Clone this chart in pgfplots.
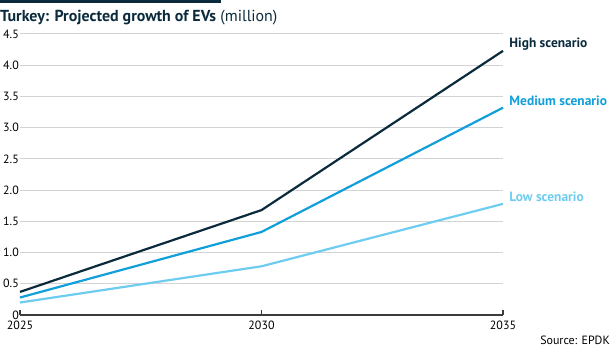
\documentclass[border=0pt]{standalone}
\usepackage{fontspec}
\setmainfont{PT Sans}
\usepackage{pgfplots}
\pgfplotsset{compat=1.18}
\definecolor{high}{HTML}{0B2B3D}
\definecolor{med}{HTML}{109FDA}
\definecolor{low}{HTML}{6ECCF0}
\definecolor{gridc}{HTML}{D3D3D3}
\definecolor{axisc}{HTML}{3C3C3C}
\begin{document}
\begin{tikzpicture}[x=1bp,y=1bp]
\path[use as bounding box] (0,0) rectangle (615,350);
\fill[high] (0,347) rectangle (221,350);
\node[anchor=base west, inner sep=0, text=high] at (0,329) {\fontsize{16}{18}\selectfont\textbf{Turkey: Projected growth of EVs} (million)};
\node[anchor=base east, inner sep=0, text=black] at (610,6) {\fontsize{12}{14}\selectfont Source: EPDK};
\begin{axis}[
  at={(20bp,35bp)}, anchor=south west,
  scale only axis, width=483bp, height=281bp,
  xmin=2025, xmax=2035, ymin=0, ymax=4.5,
  axis x line*=bottom, axis y line*=left,
  y axis line style={draw=none},
  x axis line style={axisc, line width=2bp, -},
  xtick={2025,2030,2035},
  xticklabels={2025,2030,2035},
  ytick={0,0.5,1,1.5,2,2.5,3,3.5,4,4.5},
  yticklabels={0,0.5,1.0,1.5,2.0,2.5,3.0,3.5,4.0,4.5},
  ymajorgrids, grid style={gridc, line width=1bp},
  ytick style={draw=none},
  xtick style={axisc, line width=1.2bp},
  major tick length=5bp, tick align=inside,
  tick label style={font=\fontsize{12}{14}\selectfont, text=black},
  yticklabel style={inner sep=1bp, xshift=0bp},
  xticklabel style={inner sep=1bp, yshift=-5bp},
  clip=false,
]
\addplot[low, line width=2.2bp] coordinates {(2025,0.20) (2030,0.78) (2035,1.78)}
  node[pos=1, anchor=west, xshift=2bp, yshift=7bp, font=\fontsize{13.5}{15}\selectfont\bfseries] {Low scenario};
\addplot[med, line width=2.2bp] coordinates {(2025,0.28) (2030,1.33) (2035,3.32)}
  node[pos=1, anchor=west, xshift=2bp, yshift=7bp, font=\fontsize{13.5}{15}\selectfont\bfseries] {Medium scenario};
\addplot[high, line width=2.2bp] coordinates {(2025,0.37) (2030,1.68) (2035,4.23)}
  node[pos=1, anchor=west, xshift=2bp, yshift=7bp, font=\fontsize{13.5}{15}\selectfont\bfseries] {High scenario};
\end{axis}
\end{tikzpicture}
\end{document}
